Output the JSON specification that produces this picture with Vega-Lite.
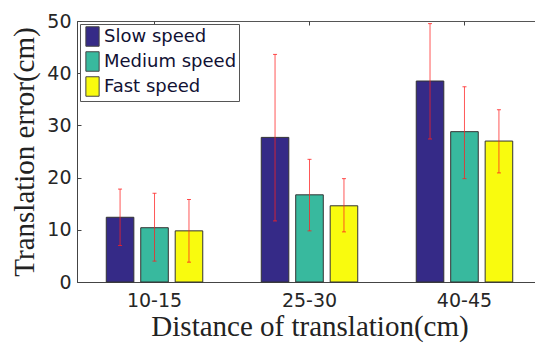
{
  "$schema": "https://vega.github.io/schema/vega-lite/v6.json",
  "autosize": "none",
  "width": 458,
  "height": 261,
  "padding": {"left": 77, "top": 21, "right": 0, "bottom": 63},
  "background": "white",
  "config": {
    "view": {"stroke": "#555555", "strokeWidth": 1},
    "axis": {"labelFont": "DejaVu Sans", "labelFontSize": 19, "labelColor": "#262626", "titleFont": "Liberation Serif", "titleFontSize": 29, "titleFontWeight": "normal", "titleColor": "#222222", "domainColor": "#444444", "tickColor": "#444444", "grid": false}
  },
  "resolve": {"axis": {"x": "independent"}},
  "data": {"values": [
    {"dist": "10-15", "speed": "Slow speed", "mean": 12.4, "lo": 7.0, "hi": 17.8},
    {"dist": "10-15", "speed": "Medium speed", "mean": 10.4, "lo": 4.0, "hi": 17.0},
    {"dist": "10-15", "speed": "Fast speed", "mean": 9.8, "lo": 3.8, "hi": 15.8},
    {"dist": "25-30", "speed": "Slow speed", "mean": 27.7, "lo": 11.7, "hi": 43.6},
    {"dist": "25-30", "speed": "Medium speed", "mean": 16.7, "lo": 9.8, "hi": 23.5},
    {"dist": "25-30", "speed": "Fast speed", "mean": 14.6, "lo": 9.6, "hi": 19.8},
    {"dist": "40-45", "speed": "Slow speed", "mean": 38.5, "lo": 27.4, "hi": 49.5},
    {"dist": "40-45", "speed": "Medium speed", "mean": 28.8, "lo": 19.8, "hi": 37.4},
    {"dist": "40-45", "speed": "Fast speed", "mean": 27.0, "lo": 20.9, "hi": 33.0}
  ]},
  "encoding": {
    "xOffset": {"field": "speed", "type": "nominal", "sort": ["Slow speed", "Medium speed", "Fast speed"],
      "scale": {"paddingInner": 0.2, "paddingOuter": 0.1}}
  },
  "layer": [
    {
      "mark": {"type": "bar", "stroke": "#333333", "strokeWidth": 1},
      "encoding": {
        "x": {"field": "dist", "type": "nominal", "sort": null,
          "scale": {"range": [0, 465], "paddingInner": 0.333, "paddingOuter": 0.1667},
          "axis": {"title": "Distance of translation(cm)", "orient": "bottom", "labelAngle": 0, "tickSize": -4, "labelPadding": 13, "titlePadding": 2}},
        "y": {"field": "mean", "type": "quantitative", "scale": {"domain": [0, 50]},
          "axis": {"title": "Translation error(cm)", "values": [0, 10, 20, 30, 40, 50], "tickSize": -4, "labelPadding": 10, "titlePadding": 7}},
        "color": {"field": "speed", "type": "nominal", "sort": ["Slow speed", "Medium speed", "Fast speed"],
          "scale": {"domain": ["Slow speed", "Medium speed", "Fast speed"], "range": ["#352a87", "#38b99e", "#f9fb0e"]},
          "legend": {"title": null, "orient": "top-left", "offset": 3, "labelFont": "DejaVu Sans", "labelFontSize": 18, "labelColor": "#111133",
            "symbolType": "M-0.68,-1H0.68V1H-0.68Z", "symbolSize": 380, "symbolStrokeColor": "#444444", "symbolStrokeWidth": 1, "symbolOpacity": 1,
            "rowPadding": 0, "labelOffset": 1, "padding": 2, "strokeColor": "#555555", "fillColor": "white", "cornerRadius": 0}}
      }
    },
    {
      "mark": {"type": "rule", "color": "#ff2020", "opacity": 0.75, "strokeWidth": 1},
      "encoding": {
        "x": {"field": "dist", "type": "nominal", "sort": null,
          "axis": {"title": null, "orient": "top", "labels": false, "domain": false, "tickSize": -4}},
        "y": {"field": "lo", "type": "quantitative"}, "y2": {"field": "hi"}}
    },
    {
      "mark": {"type": "tick", "color": "#ff2020", "opacity": 0.8, "size": 4, "thickness": 1, "orient": "horizontal"},
      "encoding": {
        "x": {"field": "dist", "type": "nominal", "sort": null, "axis": null},
        "y": {"field": "lo", "type": "quantitative"}}
    },
    {
      "mark": {"type": "tick", "color": "#ff2020", "opacity": 0.8, "size": 4, "thickness": 1, "orient": "horizontal"},
      "encoding": {
        "x": {"field": "dist", "type": "nominal", "sort": null, "axis": null},
        "y": {"field": "hi", "type": "quantitative"}}
    }
  ]
}
